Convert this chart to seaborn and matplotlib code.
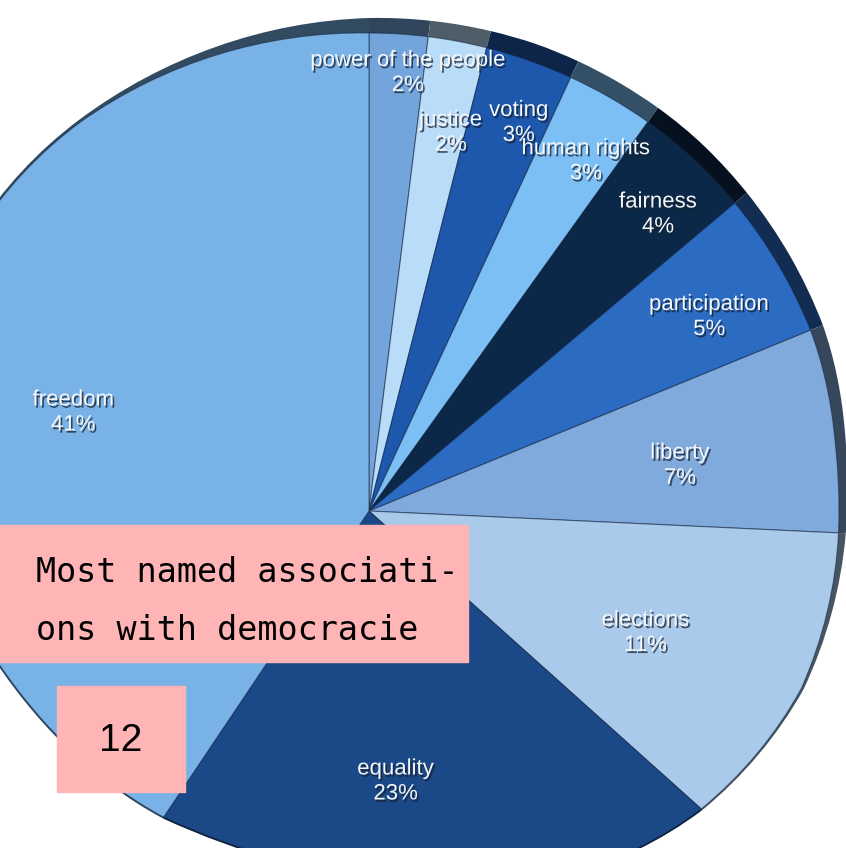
import numpy as np
import matplotlib
matplotlib.use("Agg")
import matplotlib.pyplot as plt
import matplotlib.transforms as mtransforms
import matplotlib.patheffects as pe
from matplotlib.colors import to_rgb
from matplotlib.patches import Rectangle
import seaborn as sns

# Data: most named associations with democracy (share in %)
categories = ["power of the people", "justice", "voting", "human rights", "fairness",
              "participation", "liberty", "elections", "equality", "freedom"]
shares = [2, 2, 3, 3, 4, 5, 7, 11, 23, 41]
slice_colors = ["#74a4dc", "#b9ddf8", "#1d58ad", "#7cbff4", "#0b2848",
                "#2b6bc2", "#80a9dc", "#a9caea", "#1b4886", "#79b2e6"]
# how far out (fraction of radius) each label sits
label_dist = [0.92, 0.81, 0.87, 0.86, 0.865, 0.82, 0.667, 0.647, 0.725, 0.66]
label_turn = 1.5  # labels sit slightly clockwise of the slice middle

title_lines = ["Most named associati-", "ons with democracie"]
page_number = "12"

# outline of the tilted pie: radius in px by angle, clockwise from 12 o'clock
shape_deg = [0, 20, 40, 55, 70, 84, 100, 114, 129, 140, 160, 180, 193, 205, 215,
             235, 248, 265, 285, 300, 315, 330, 345]
face_r = [478, 478, 479, 478, 477, 470, 470, 467, 450, 436, 400, 365, 350, 358, 370,
          382, 399, 440, 470, 480, 486, 483, 480]
rim_extra = [15, 18, 17, 15, 13, 10, 5, 2, 1.5, 1.5, 1.5, 1.5, 1.5, 1.5, 1.5,
             1.5, 1.5, 1.5, 1.5, 1.5, 2, 3, 9]

W, H = 846, 848
CX, CY = 369, H - 511


class RadialWarp(mtransforms.Transform):
    """Stretch a unit pie so its outline follows the given radius profile."""
    input_dims = 2
    output_dims = 2
    is_separable = False
    has_inverse = False

    def __init__(self, radii):
        super().__init__()
        self.radii = np.asarray(radii, float)

    def transform_non_affine(self, xy):
        xy = np.atleast_2d(np.asarray(xy, float))
        phi = np.degrees(np.arctan2(xy[:, 0], xy[:, 1])) % 360
        s = np.interp(phi, shape_deg, self.radii, period=360)
        return xy * s[:, None]


sns.set_theme(style="white")

fig = plt.figure(figsize=(W / 100, H / 100), dpi=100)
ax = fig.add_axes([0, 0, 1, 1])

shift = mtransforms.Affine2D().translate(CX, CY)
face_tr = RadialWarp(face_r) + shift + ax.transData
rim_tr = RadialWarp(np.add(face_r, rim_extra)) + shift + ax.transData

# dark side wall of the 3D pie
rim_colors = [tuple(np.array(to_rgb(c)) * 0.42) for c in slice_colors]
rim_wedges, _ = ax.pie(shares, colors=rim_colors, startangle=90, counterclock=False,
                       wedgeprops=dict(linewidth=0))
for w in rim_wedges:
    w.set_transform(rim_tr)
    w.set_zorder(1)

# top face
wedges, _ = ax.pie(shares, colors=slice_colors, startangle=90, counterclock=False,
                   wedgeprops=dict(linewidth=0.8, edgecolor=(0.08, 0.14, 0.25, 0.55)))
shadow = [pe.withSimplePatchShadow(offset=(1.2, -1.6), shadow_rgbFace="#16202e", alpha=0.75)]
for w, name, v, f in zip(wedges, categories, shares, label_dist):
    w.set_transform(face_tr)
    w.set_zorder(2)
    mid = np.deg2rad((w.theta1 + w.theta2) / 2 - label_turn)
    ax.text(f * np.cos(mid), f * np.sin(mid), f"{name}\n{v}%", transform=face_tr,
            ha="center", va="center", fontsize=16, family="Liberation Sans",
            color="#f4f7fb", linespacing=1.25, zorder=5, path_effects=shadow)

ax.set_xlim(0, W)
ax.set_ylim(0, H)
ax.set_aspect("auto")
ax.axis("off")

# pink overlay boxes
ax.add_patch(Rectangle((0, H - 662), 468, 137, color="#ffb4b6", zorder=6))
ax.add_patch(Rectangle((57, H - 792), 128, 106, color="#ffb4b6", zorder=6))
ax.text(36, H - 582, title_lines[0], fontsize=24, family="DejaVu Sans Mono",
        color="black", va="baseline", ha="left", zorder=7)
ax.text(36, H - 640, title_lines[1], fontsize=24, family="DejaVu Sans Mono",
        color="black", va="baseline", ha="left", zorder=7)
ax.text(121, H - 741, page_number, fontsize=28, family="Liberation Sans",
        color="black", va="center", ha="center", zorder=7)

plt.savefig("out.png", dpi=100)
